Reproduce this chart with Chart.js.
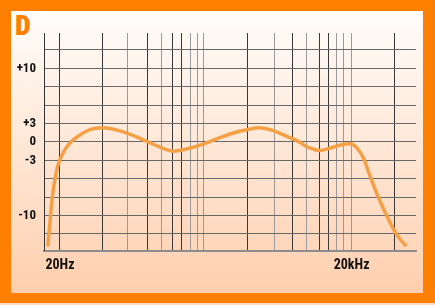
<!DOCTYPE html>
<html>
<head>
<meta charset="utf-8">
<script src="https://cdn.jsdelivr.net/npm/chart.js@4/dist/chart.umd.min.js"></script>
<style>
body{margin:0;background:#ffdcc6;}
#frame{position:absolute;left:0;top:0;width:435px;height:303px;background:#ff7f00;}
#inner{position:absolute;left:11px;top:11px;width:412px;height:282px;background:linear-gradient(#fffdfb,#ffcfae);}
#letter{position:absolute;left:4px;top:1px;line-height:28px;font-family:Roboto,sans-serif;font-weight:900;font-size:28px;font-stretch:75%;color:#ff7f00;}
canvas{position:absolute;left:0;top:0;}
</style>
</head>
<body>
<div id="frame"><div id="inner"><div id="letter">D</div><canvas id="myChart" width="412" height="282"></canvas></div></div>
<script>
// curve: frequency (Hz) and level (dB)
const freqHz = [15.0, 15.7, 16.5, 17.6, 19.1, 21.5, 25.2, 31.9, 40.5, 55.5, 82.5, 133, 197, 292, 435,
    698, 1124, 1806, 2198, 2904, 4316, 5920, 6940, 7500, 9140, 12060, 15290, 19390, 22740, 26600,
    31180, 37960, 46340, 58760, 73280];
const levelDb = [-13.9, -11.2, -8.2, -5.7, -3.6, -1.8, -0.2, 1.1, 2.0, 2.3, 1.8, 0.6, -0.6, -1.5, -1.0,
    0.05, 1.3, 2.1, 2.3, 2.0, 0.9, -0.1, -0.8, -1.0, -1.4, -1.0, -0.5, -0.3, -1.0, -2.7,
    -5.1, -7.8, -10.1, -12.5, -13.9];

// vertical grid of the log paper (Hz)
const gridFreqs = [20, 55, 100, 160, 220, 290, 360, 440, 520, 600, 1700, 3200, 4900, 6800, 9400,
    11500, 14000, 16700, 20000, 55000];
const darkFreqs = [20, 55, 160, 290, 360, 1700, 4900, 9400, 11500, 55000];
const xLabels = {20: '20Hz', 20000: '20kHz'};

// the dB axis is not linear: one division around 0, wider steps outside
const dbKnots = [-17, -10, -3, 0, 3, 10, 17];
const divKnots = [-7, -4, -1, 0, 1, 4, 7];
const yDivisions = [-5, -4, -3, -2, -1, 0, 1, 2, 3, 4, 5];
const yLabels = {4: '+10', 1: '+3', 0: '0', '-1': '-3', '-4': '-10'};

function dbToDiv(db){
    for (let i = 1; i < dbKnots.length; i++){
        if (db <= dbKnots[i]){
            let t = (db - dbKnots[i-1]) / (dbKnots[i] - dbKnots[i-1]);
            return divKnots[i-1] + t * (divKnots[i] - divKnots[i-1]);
        }
    }
    return divKnots[divKnots.length-1];
}

const points = freqHz.map((f, i) => ({x: f, y: dbToDiv(levelDb[i])}));

// weight string also carries the stretch, Roboto is a variable font
const family = 'Roboto, sans-serif';

var ctx = document.getElementById('myChart').getContext('2d');
var myChart = new Chart(ctx, {
    type: 'line',
    data: {
        datasets: [{
            data: points,
            borderColor: '#f6a046',
            borderWidth: 3.5,
            pointRadius: 0,
            cubicInterpolationMode: 'monotone',
            fill: false
        }]
    },
    options: {
        responsive: false,
        animation: false,
        layout: {padding: {left: 0, top: 22, right: 7, bottom: 0}},
        plugins: {legend: {display: false}, tooltip: {enabled: false}},
        scales: {
            x: {
                type: 'logarithmic',
                min: 13.7,
                max: 92000,
                afterBuildTicks: function(scale){
                    scale.ticks = gridFreqs.map(v => ({value: v}));
                },
                afterFit: function(scale){ scale.height = 42.5; },
                grid: {
                    drawTicks: false,
                    lineWidth: 1,
                    color: function(c){
                        if (!c.tick) return '#888';
                        return darkFreqs.includes(c.tick.value) ? '#383838' : '#9a9a9a';
                    }
                },
                border: {display: true, color: '#8c8c8c', width: 2},
                ticks: {
                    autoSkip: false,
                    maxRotation: 0,
                    padding: 7,
                    color: '#111',
                    font: {family: family, weight: 'bold condensed', size: 14},
                    callback: function(v){ return xLabels[v] || ''; }
                }
            },
            y: {
                type: 'linear',
                min: -5.9,
                max: 5.92,
                afterBuildTicks: function(scale){
                    scale.ticks = yDivisions.map(v => ({value: v}));
                },
                afterFit: function(scale){ scale.width = 33; },
                grid: {drawTicks: false, color: '#686868', lineWidth: 1},
                border: {display: true, color: '#333', width: 1},
                ticks: {
                    padding: 8,
                    color: '#111',
                    font: {family: family, weight: 'bold condensed', size: 13},
                    callback: function(v){ return yLabels[v] || ''; }
                }
            }
        }
    }
});
</script>
</body>
</html>
